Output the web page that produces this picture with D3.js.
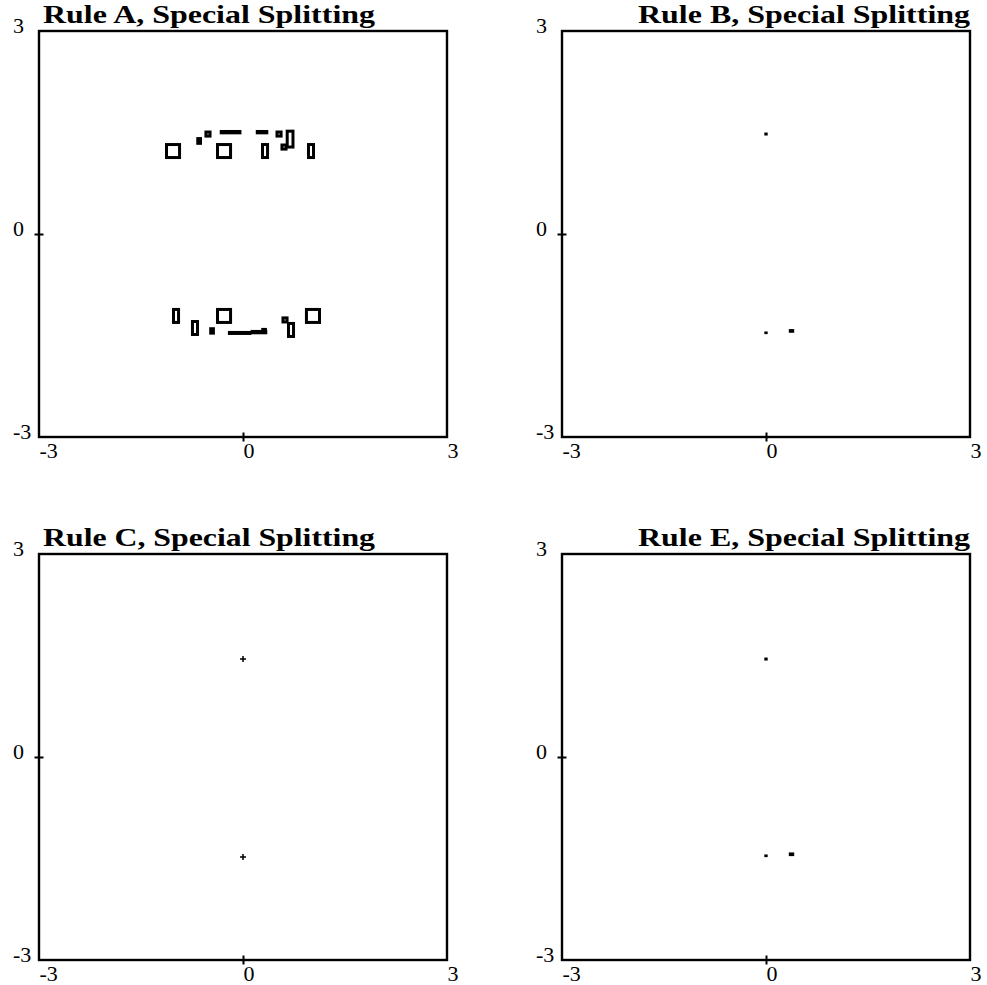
<!DOCTYPE html>
<html>
<head>
<meta charset="utf-8">
<script src="https://cdn.jsdelivr.net/npm/d3@7"></script>
<style>
  body { margin: 0; background: #fff; }
</style>
</head>
<body>
<svg id="chart"></svg>
<script>
const titles = ["Rule A, Special Splitting", "Rule B, Special Splitting",
                "Rule C, Special Splitting", "Rule E, Special Splitting"];
const xTicks = [-3, 0, 3];
const yTicks = [-3, 0, 3];

// boxes left after splitting, [xmin, xmax, ymin, ymax]
const boxesA = [
  [-1.125, -0.933, 1.13, 1.322],
  [-0.375, -0.183, 1.13, 1.322],
  [0.287, 0.361, 1.13, 1.322],
  [0.963, 1.037, 1.13, 1.322],
  [0.65, 0.735, 1.285, 1.52],
  [-0.545, -0.485, 1.447, 1.507],
  [0.50, 0.56, 1.447, 1.507],
  [0.573, 0.633, 1.255, 1.315],
  [-0.665, -0.625, 1.34, 1.41],
  [-0.32, -0.045, 1.495, 1.515],
  [-0.045, 0.10, 1.49, 1.49],
  [0.21, 0.35, 1.495, 1.515],
  [-1.022, -0.948, -1.307, -1.115],
  [-0.743, -0.669, -1.485, -1.293],
  [-0.475, -0.435, -1.465, -1.40],
  [-0.375, -0.183, -1.307, -1.115],
  [-0.20, 0.10, -1.47, -1.455],
  [0.135, 0.335, -1.46, -1.44],
  [0.29, 0.33, -1.45, -1.41],
  [0.588, 0.648, -1.30, -1.24],
  [0.669, 0.743, -1.514, -1.322],
  [0.933, 1.125, -1.307, -1.115]
];
const boxesB = [
  [-0.01, 0.01, 1.47, 1.485],
  [-0.01, 0.01, -1.465, -1.455],
  [0.35, 0.40, -1.445, -1.42]
];
const crossesC = [
  [0, 1.447],
  [0, -1.477]
];
const boxesE = [
  [-0.01, 0.01, 1.44, 1.455],
  [-0.01, 0.01, -1.465, -1.455],
  [0.35, 0.40, -1.45, -1.425]
];

const W = 987, H = 985;
const fw = 408, fh = 406;
const origins = [[39, 31], [562, 31], [39, 554], [562, 554]];
const panels = [
  {boxes: boxesA, crosses: [], sw: 3},
  {boxes: boxesB, crosses: [], sw: 2},
  {boxes: [], crosses: crossesC, sw: 2},
  {boxes: boxesE, crosses: [], sw: 2}
];

const svg = d3.select("#chart").attr("width", W).attr("height", H);
svg.append("rect").attr("width", W).attr("height", H).attr("fill", "#fff");

const x = d3.scaleLinear().domain([-3, 3]).range([0, fw]);
const y = d3.scaleLinear().domain([-3, 3]).range([fh, 0]);

panels.forEach((p, i) => {
  const [ox, oy] = origins[i];
  const g = svg.append("g").attr("transform", `translate(${ox},${oy})`);
  const right = i % 2 === 1;

  g.append("text")
    .attr("x", right ? fw : 4)
    .attr("y", -8)
    .attr("text-anchor", right ? "end" : "start")
    .attr("font-family", "Liberation Serif, serif")
    .attr("font-weight", "bold")
    .attr("font-size", 26)
    .attr("textLength", 332)
    .attr("lengthAdjust", "spacingAndGlyphs")
    .text(titles[i]);

  // bottom axis
  const gx = g.append("g")
    .attr("transform", `translate(0,${fh})`)
    .call(d3.axisBottom(x).tickValues(xTicks).tickFormat(d3.format("d")));
  gx.select(".domain").remove();
  gx.selectAll(".tick line")
    .attr("y1", -4.5).attr("y2", 4.5)
    .attr("stroke-width", 2)
    .attr("display", d => d === 0 ? null : "none");
  gx.selectAll(".tick text")
    .attr("y", 21).attr("dy", null).attr("x", 0)
    .attr("text-anchor", "start")
    .attr("font-family", "Liberation Serif, serif")
    .attr("font-size", 22)
    .text(d => String(d).replace("\u2212", "-"));

  // left axis
  const gy = g.append("g")
    .call(d3.axisLeft(y).tickValues(yTicks).tickFormat(d3.format("d")));
  gy.select(".domain").remove();
  gy.selectAll(".tick line")
    .attr("x1", -4.5).attr("x2", 4.5)
    .attr("stroke-width", 2)
    .attr("display", d => d === 0 ? null : "none");
  gy.selectAll(".tick text")
    .attr("x", -26).attr("y", 1).attr("dy", null)
    .attr("text-anchor", "start")
    .attr("font-family", "Liberation Serif, serif")
    .attr("font-size", 22)
    .text(d => String(d).replace("\u2212", "-"));
  g.selectAll(".tick text").attr("fill", "#000");

  // frame
  g.append("rect")
    .attr("width", fw).attr("height", fh)
    .attr("fill", "none").attr("stroke", "#000").attr("stroke-width", 2.4);

  g.append("g").selectAll("rect")
    .data(p.boxes)
    .join("rect")
      .attr("x", d => x(d[0]))
      .attr("y", d => y(d[3]))
      .attr("width", d => x(d[1]) - x(d[0]))
      .attr("height", d => y(d[2]) - y(d[3]))
      .attr("fill", "none")
      .attr("stroke", "#000")
      .attr("stroke-width", p.sw);

  g.append("g").selectAll("path")
    .data(p.crosses)
    .join("path")
      .attr("transform", d => `translate(${x(d[0])},${y(d[1])})`)
      .attr("d", "M-3,0H3M0,-3V3")
      .attr("stroke", "#000")
      .attr("stroke-width", 1.5);
});
</script>
</body>
</html>
